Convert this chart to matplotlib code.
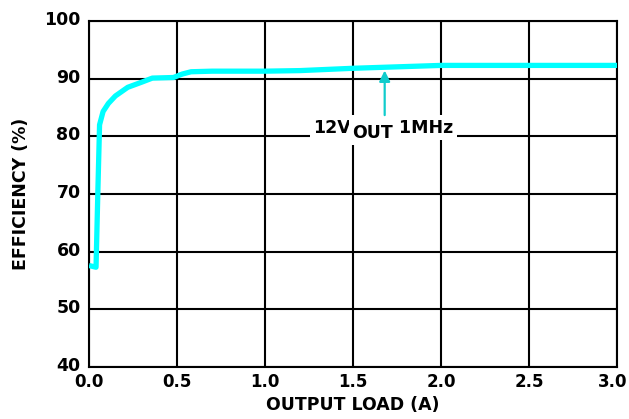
import matplotlib.pyplot as plt
from matplotlib.transforms import ScaledTranslation

# efficiency curve
load_a = [0.0, 0.04, 0.05, 0.06, 0.08, 0.11, 0.15, 0.22, 0.30, 0.36, 0.48, 0.53, 0.58, 0.70,
          1.00, 1.20, 1.50, 1.70, 2.00, 2.50, 3.00]
eff_pct = [57.6, 57.3, 70.0, 82.0, 84.3, 85.7, 87.0, 88.5, 89.4, 90.1, 90.2, 90.8, 91.2, 91.3,
           91.3, 91.4, 91.8, 92.0, 92.3, 92.3, 92.3]

xticks = [0.0, 0.5, 1.0, 1.5, 2.0, 2.5, 3.0]
yticks = [40, 50, 60, 70, 80, 90, 100]

plt.rcParams['font.family'] = 'DejaVu Sans'
plt.rcParams['font.weight'] = 'bold'

fig = plt.figure(figsize=(6.29, 4.19), dpi=100)
ax = fig.add_axes([89 / 629, 1 - 367 / 419, 528 / 629, 346 / 419])

ax.plot(load_a, eff_pct, color='#00FFFF', linewidth=3.8, solid_capstyle='butt', zorder=3)

ax.set_xlim(0, 3)
ax.set_ylim(40, 100)
ax.set_xticks(xticks)
ax.set_yticks(yticks)
ax.set_xticklabels(['%.1f' % v for v in xticks], fontsize=12, fontweight='bold')
ax.set_yticklabels([str(v) for v in yticks], fontsize=12.5, fontweight='bold')
ax.tick_params(axis='x', length=0, pad=4)
ax.tick_params(axis='y', length=0, pad=6)
# y labels sit a little above their grid lines
lift = ScaledTranslation(0, 3 / 100, fig.dpi_scale_trans)
for lab in ax.get_yticklabels():
    lab.set_transform(lab.get_transform() + lift)
# keep the last x label inside the figure
last = ax.get_xticklabels()[-1]
last.set_transform(last.get_transform() + ScaledTranslation(-4 / 100, 0, fig.dpi_scale_trans))
ax.grid(True, color='black', linewidth=1.5)
for s in ax.spines.values():
    s.set_linewidth(1.5)

ax.set_xlabel('OUTPUT LOAD (A)', fontsize=12.5, fontweight='bold', labelpad=4)
ax.set_ylabel('EFFICIENCY (%)', fontsize=12.5, fontweight='bold', labelpad=10)

# annotation: arrow and label "12V_OUT 1MHz" with white background
ax.annotate('', xy=(1.68, 91.9), xytext=(1.68, 83.2),
            arrowprops=dict(arrowstyle='-|>', color='#10CCCC', lw=1.6, mutation_scale=16), zorder=6)
box = dict(facecolor='white', edgecolor='none', pad=2.5)
x0, y0 = 1.275, 80.6
t1 = ax.text(x0, y0, '12V', ha='left', va='baseline', fontsize=12.5, fontweight='bold',
             zorder=5, bbox=box)
fig.canvas.draw()
r = fig.canvas.get_renderer()
w1 = t1.get_window_extent(r).width
t2 = ax.annotate('OUT', xy=(x0, y0), xytext=(w1 + 1, -5), textcoords='offset pixels',
                 ha='left', va='baseline', fontsize=12.5, fontweight='bold', zorder=5.2, bbox=box)
fig.canvas.draw()
w2 = t2.get_window_extent(r).width
ax.annotate(' 1MHz', xy=(x0, y0), xytext=(w1 + w2 + 1, 0), textcoords='offset pixels',
            ha='left', va='baseline', fontsize=12.5, fontweight='bold', zorder=5.1, bbox=box)

fig.savefig('out.png', dpi=100)
